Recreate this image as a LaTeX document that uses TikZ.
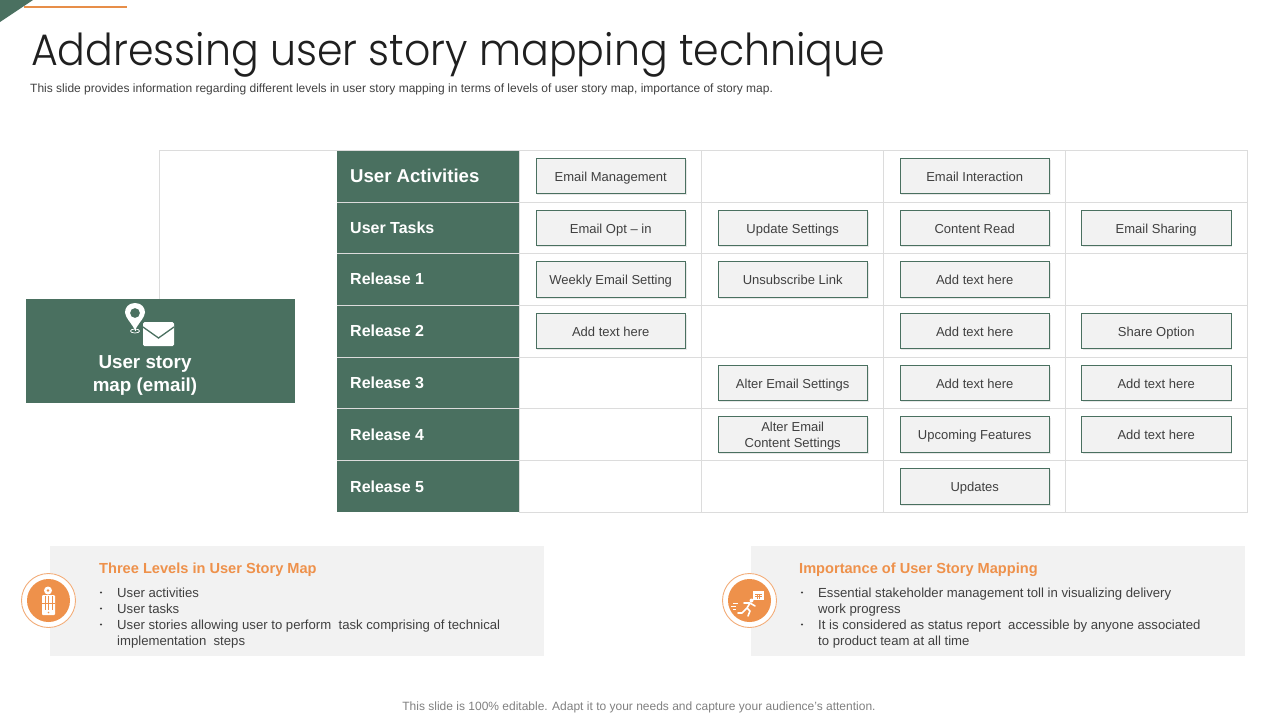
\documentclass[tikz,border=0pt]{standalone}
\usepackage{fontspec}
\setmainfont{Liberation Sans}
\newfontfamily\titlefont[UprightFont=* Light]{Poppins}
\usetikzlibrary{shadows}
\definecolor{dgreen}{HTML}{4A7060}
\definecolor{orng}{HTML}{EE914B}
\definecolor{grid}{HTML}{DCDCDC}
\definecolor{panel}{HTML}{F2F2F2}
\definecolor{txt}{HTML}{404040}
\newcommand{\fs}[1]{\fontsize{#1}{#1}\selectfont}
\tikzset{
 x=1pt,y=-1pt,
 cellbase/.style={draw=dgreen,line width=0.9pt,fill=panel,minimum width=149.5pt,minimum height=35.5pt,inner sep=0pt,align=center,text=txt,font=\fs{13},execute at begin node={\baselineskip=16pt},drop shadow={shadow xshift=1.5pt,shadow yshift=-1.5pt,fill=black!18,opacity=.5}},
 cellbox/.style={cellbase,text height=12pt,text depth=1.5pt},
 rowhead/.style={anchor=base west,text=white,font=\bfseries\fs{16},inner sep=0pt},
 gridline/.style={draw=grid,line width=0.8pt},
 panelbox/.style={fill=panel,draw=none},
 paneltitle/.style={anchor=base west,text=orng,font=\bfseries\fs{14.6},inner sep=0pt},
 paneltext/.style={anchor=base west,text=txt,font=\fs{13.15},inner sep=0pt},
}
\begin{document}
\begin{tikzpicture}
\useasboundingbox (0,0) rectangle (1280,720);
% corner
\fill[dgreen] (0,0) -- (33,0) -- (0,22) -- cycle;
\draw[orng!85!brown,line width=2pt] (24,6.5) -- (127,6.5);
% title
\node[anchor=base west,inner sep=0pt,text=black!88] (title) at (31,65) {\scalebox{0.934}[1]{\titlefont\fs{44}Addressing user story mapping technique}};
\node[anchor=base west,inner sep=0pt,text=txt] (sub) at (30,92.5) {\fs{12}This slide provides information regarding different levels in user story mapping in terms of levels of user story map, importance of story map.};
% grid
\fill[dgreen] (337,150) rectangle (519,512);
\draw[gridline] (159.5,299) -- (159.5,150) -- (1247.5,150) -- (1247.5,512) -- (519,512);
\foreach \y in {202,253,305,357,408,460} \draw[gridline] (337,\y) -- (1247.5,\y);
\foreach \x in {519,701,883,1065} \draw[gridline] (\x,150) -- (\x,512);
% row headers
\node[rowhead,font=\bfseries\fs{18.6}] (h0) at (350,182) {User Activities};
\node[rowhead] (h1) at (350,233) {User Tasks};
\node[rowhead] (h2) at (350,284.5) {Release 1};
\node[rowhead] (h3) at (350,336.5) {Release 2};
\node[rowhead] (h4) at (350,388) {Release 3};
\node[rowhead] (h5) at (350,440) {Release 4};
\node[rowhead] (h6) at (350,492) {Release 5};
% cells
\node[cellbox] (a1) at (610.7,176) {Email Management};
\node[cellbox] (a3) at (974.7,176) {Email Interaction};
\node[cellbox] (b1) at (610.7,228) {Email Opt – in};
\node[cellbox] (b2) at (792.7,228) {Update Settings};
\node[cellbox] (b3) at (974.7,228) {Content Read};
\node[cellbox] (b4) at (1156.2,228) {Email Sharing};
\node[cellbox] (c1) at (610.7,279.5) {Weekly Email Setting};
\node[cellbox] (c2) at (792.7,279.5) {Unsubscribe Link};
\node[cellbox] (c3) at (974.7,279.5) {Add text here};
\node[cellbox] (d1) at (610.7,331) {Add text here};
\node[cellbox] (d3) at (974.7,331) {Add text here};
\node[cellbox] (d4) at (1156.2,331) {Share Option};
\node[cellbox] (e2) at (792.7,383) {Alter Email Settings};
\node[cellbox] (e3) at (974.7,383) {Add text here};
\node[cellbox] (e4) at (1156.2,383) {Add text here};
\node[cellbase] (f2) at (792.7,434.5) {\rule{0pt}{12.5pt}Alter Email\\Content Settings};
\node[cellbox] (f3) at (974.7,434.5) {Upcoming Features};
\node[cellbox] (f4) at (1156.2,434.5) {Add text here};
\node[cellbox] (g3) at (974.7,486.5) {Updates};
% user story map
\fill[dgreen] (26,299) rectangle (295,403);
\node[text=white,font=\bfseries\fs{18.8},align=center,inner sep=0pt,execute at begin node={\baselineskip=23pt}] (map) at (145,375.5) {User story\\map (email)};
% pin icon
\fill[white,even odd rule] (135,303) .. controls (128,303) and (125,308) .. (125,312.5) .. controls (125,317) and (132,324) .. (135,330) .. controls (138,324) and (145,317) .. (145,312.5) .. controls (145,308) and (142,303) .. (135,303) -- cycle (140,313) arc (0:360:5);
\draw[white,line width=0.6pt] (135,326) -- (135,331);
\draw[white,line width=0.7pt] (135,331) ellipse (4.5 and 2);
% envelope icon
\fill[white,rounded corners=1.5pt] (143,322) rectangle (174,346);
\draw[dgreen,line width=1.3pt] (143,327) -- (158.5,338) -- (174,327);
% panels
\fill[panelbox] (50,546) rectangle (544,656);
\fill[panelbox] (751,546) rectangle (1245,656);
\node[paneltitle] (pt1) at (99,573) {Three Levels in User Story Map};
\node[paneltitle] (pt2) at (799,573) {Importance of User Story Mapping};
\foreach \n/\x/\y in {1/101/592.5,2/101/608.5,3/101/624.5,4/802/592.5,5/802/624.5} \fill[txt] (\x,\y) circle (1.2);
\node[paneltext] (l1) at (117,597) {User activities};
\node[paneltext] (l2) at (117,613) {User tasks};
\node[paneltext] (l3) at (117,629) {User stories allowing user to perform\ \ task comprising of technical};
\node[paneltext] (l4) at (117,645) {implementation\ \ steps};
\node[paneltext] (r1) at (818,597) {Essential stakeholder management toll in visualizing delivery};
\node[paneltext] (r2) at (818,613) {work progress};
\node[paneltext] (r3) at (818,629) {It is considered as status report\ \ accessible by anyone associated};
\node[paneltext] (r4) at (818,645) {to product team at all time};
% left badge
\fill[white] (48.5,600.5) circle (27.5);
\draw[orng!75!white,line width=0.9pt] (48.5,600.5) circle (27);
\fill[orng] (48.5,600.5) circle (21.5);
\fill[white,rounded corners=1pt] (42,595) rectangle (55,615);
\fill[white] (48,590.5) circle (4);
\draw[orng,line width=0.7pt] (48.5,596) -- (48.5,610) (42,603) -- (55,603);
\draw[orng,line width=0.6pt] (45,596) -- (45,610) (52,596) -- (52,610);
\fill[orng] (48,590.5) circle (1.4);
\fill[orng] (48.5,612.5) circle (0.8);
% right badge
\fill[white] (749.5,600.5) circle (27.5);
\draw[orng!75!white,line width=0.9pt] (749.5,600.5) circle (27);
\fill[orng] (749.5,600.5) circle (21.5);
\fill[white] (753,591) rectangle (764,600);
\draw[orng,line width=0.6pt] (755,594) -- (762,594) (755,596.5) -- (762,596.5);
\draw[orng,line width=0.5pt] (757,594) -- (757,599) (759.5,594) -- (759.5,599);
\fill[white] (751.5,600.5) circle (2);
\draw[white,line width=1.6pt,line cap=round,line join=round] (750,603) -- (747,608) -- (750,611) -- (748,616) (747,608) -- (742,613) -- (738,613) (750,603) -- (755,606) (750,603) -- (744,603);
\draw[white,line width=0.5pt] (733,603) -- (738,603) (731,606) -- (736,606) (733,609) -- (736,609);
% footer
\node[text=black!50,inner sep=0pt,anchor=base] (foot) at (639,710.5) {\fs{12}This slide is 100\% editable. Adapt it to your needs and capture your audience's attention.};
\end{tikzpicture}
\end{document}
